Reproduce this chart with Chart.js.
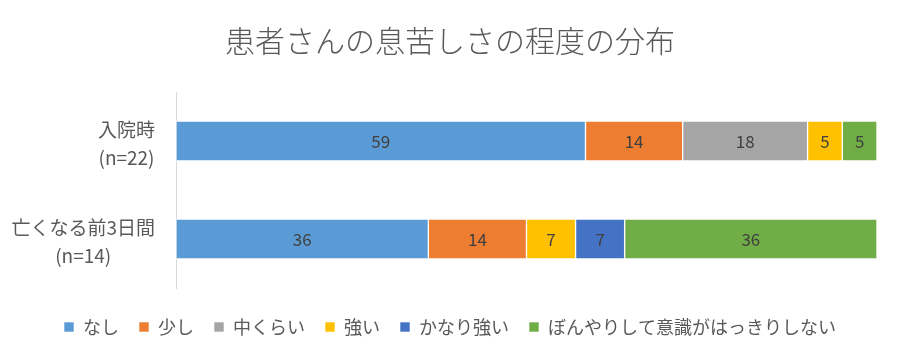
<!DOCTYPE html>
<html><head><meta charset="utf-8">
<script src="https://cdn.jsdelivr.net/npm/chart.js@4"></script>
<style>html,body{margin:0;padding:0;background:#fff}#wrap{width:900px;height:360px}</style>
</head><body><div id="wrap"><canvas id="c" width="900" height="360"></canvas></div>
<script>
const titleText = '患者さんの息苦しさの程度の分布';
const categories = [['入院時', '(n=22)'], ['亡くなる前3日間', '(n=14)']];
const seriesNames = ['なし', '少し', '中くらい', '強い', 'かなり強い', 'ぼんやりして意識がはっきりしない'];
const nashi    = [59, 36];
const sukoshi  = [14, 14];
const chukurai = [18, 0];
const tsuyoi   = [5, 7];
const kanari   = [0, 7];
const bonyari  = [5, 36];
const colors = ['#5B9BD5', '#ED7D31', '#A5A5A5', '#FFC000', '#4472C4', '#70AD47'];

const seriesValues = [nashi, sukoshi, chukurai, tsuyoi, kanari, bonyari];
const rowSums = categories.map((_, i) => seriesValues.reduce((s, arr) => s + arr[i], 0));
const FONT = '"Noto Sans CJK JP", "Noto Sans", sans-serif';

const datasets = seriesValues.map((arr, k) => ({
  label: seriesNames[k],
  data: arr.map((v, i) => v / rowSums[i] * 100),
  raw: arr,
  backgroundColor: colors[k],
  borderColor: 'rgba(255,255,255,0.6)',
  borderWidth: 1,
  borderSkipped: false,
  barThickness: 40
}));

const labelPlugin = {
  id: 'labels',
  afterDatasetsDraw(chart) {
    const ctx = chart.ctx;
    ctx.save();
    ctx.font = '17px ' + FONT;
    ctx.fillStyle = '#404040';
    ctx.textAlign = 'center';
    ctx.textBaseline = 'middle';
    chart.data.datasets.forEach((ds, k) => {
      const meta = chart.getDatasetMeta(k);
      meta.data.forEach((el, i) => {
        const v = ds.raw[i];
        if (!v) return;
        ctx.fillText(String(v), (el.x + el.base) / 2, el.y + 1);
      });
    });
    // category labels
    const ys = chart.scales.y;
    ctx.font = '19px ' + FONT;
    ctx.fillStyle = '#595959';
    categories.forEach((lines, i) => {
      const cy = ys.getPixelForValue(i) + 3;
      const w = Math.max(...lines.map(l => ctx.measureText(l).width));
      const cx = ys.right - 21 - w / 2;
      lines.forEach((l, j) => {
        ctx.fillText(l, cx, cy + (j - (lines.length - 1) / 2) * 28);
      });
    });
    ctx.restore();
  }
};

new Chart(document.getElementById('c'), {
  type: 'bar',
  data: { labels: categories, datasets },
  options: {
    indexAxis: 'y',
    responsive: false,
    animation: false,
    layout: { padding: { left: 0, right: 0, top: 0, bottom: 14 } },
    scales: {
      x: {
        stacked: true, min: 0, max: 100, display: true,
        ticks: { display: false }, grid: { display: false }, border: { display: false },
        afterFit(s) { s.height = 10; }
      },
      y: {
        stacked: true,
        grid: { display: false },
        border: { display: true, color: '#d9d9d9', width: 1 },
        ticks: { display: false },
        afterFit(s) { s.width = 176; }
      },
      y2: {
        position: 'right', display: true,
        grid: { display: false }, border: { display: false }, ticks: { display: false },
        afterFit(s) { s.width = 23; }
      }
    },
    plugins: {
      title: {
        display: true, text: titleText, color: '#595959',
        font: { family: FONT, size: 30, weight: '300' },
        padding: { top: 23, bottom: 33 }
      },
      legend: {
        position: 'bottom',
        labels: {
          color: '#595959', boxWidth: 10, boxHeight: 10, padding: 20,
          font: { family: FONT, size: 18 }
        }
      },
      tooltip: { enabled: false }
    }
  },
  plugins: [labelPlugin]
});
</script></body></html>
